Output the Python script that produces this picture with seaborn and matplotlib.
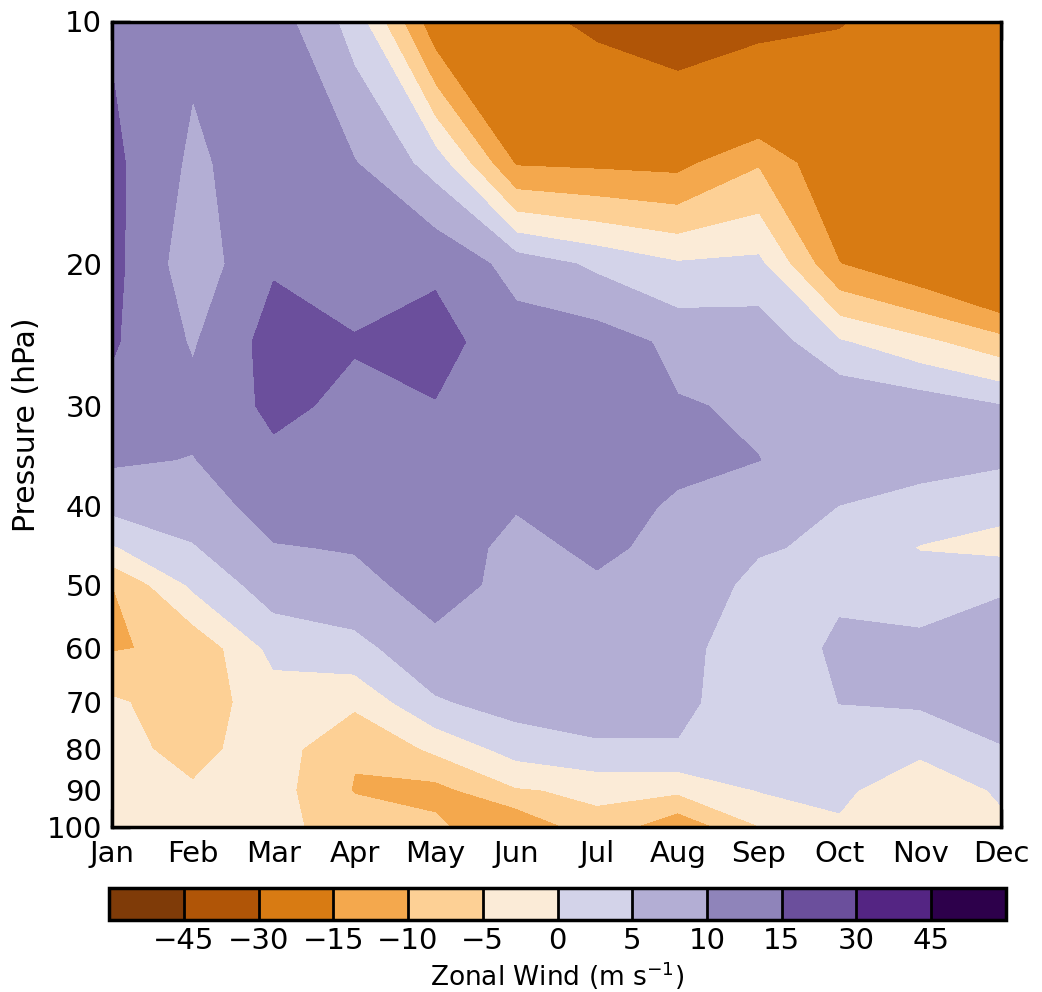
import numpy as np
import matplotlib
matplotlib.use("Agg")
import matplotlib.pyplot as plt
import seaborn as sns

sns.set_theme(style="white")
plt.rcParams['font.family'] = ['DejaVu Sans']
plt.rcParams['text.color'] = 'black'
plt.rcParams['axes.labelcolor'] = 'black'
plt.rcParams['xtick.color'] = 'black'
plt.rcParams['ytick.color'] = 'black'

months = ['Jan', 'Feb', 'Mar', 'Apr', 'May', 'Jun',
          'Jul', 'Aug', 'Sep', 'Oct', 'Nov', 'Dec']
pressure = [10, 15, 20, 25, 30, 35, 40, 45, 50, 60, 70, 80, 90, 100]

# zonal wind (m/s) per pressure level, Jan..Dec
u_010 = [14.5, 11, 12.5, 3, -18.7, -27, -32, -36, -33, -30.5, -27, -27]
u_015 = [16.2, 9, 13, 10.3, 3, -15.5, -16, -16.5, -10.5, -20, -24, -27]
u_020 = [16.5, 7, 14.5, 13, 14.3, 8, 4, 0.5, 1.2, -14.9, -19.4, -26]
u_025 = [15.6, 9.5, 17, 15.3, 16.5, 12.5, 12.5, 8.8, 8.5, 0.5, -3.75, -8.2]
u_030 = [13.5, 11.5, 16, 14, 14.8, 14, 13, 10.3, 9.5, 9.5, 8, 5.2]
u_035 = [10.7, 9.8, 14, 13, 14.2, 12.5, 12.5, 10.8, 10.05, 8, 6.5, 5.8]
u_040 = [6.3, 7.5, 12, 12, 13.5, 10.3, 11.5, 9.5, 8, 4.9, 3.4, 1.2]
u_045 = [-0.5, 4.6, 9.7, 10.3, 12.8, 8.5, 11, 8.5, 5.5, 4, -0.3, -1.5]
u_050 = [-10.05, 1, 7.5, 8.5, 12, 8.5, 9.3, 8.5, 3.5, 4, 3, 4.5]
u_060 = [-10.4, -9, 1.5, 3.4, 8.5, 7.8, 8, 7, 1.2, 6, 6, 7.1]
u_070 = [-4.3, -7.5, -2.5, -4, 4.4, 7, 6.5, 6.5, 1.2, 5.05, 5.6, 6.5]
u_080 = [-3.5, -6.5, -2.5, -9.6, -4, 2, 4.5, 4.5, 1.0, 3.5, 1.5, 4.8]
u_090 = [-3, -4.5, -3, -10.3, -11.7, -5.5, -4, -4, 0.2, 1.5, -5.05, 1]
u_100 = [-2.5, -3.5, -3.5, -7.5, -8.9, -15, -6.5, -14, -5.2, -1, -3, -1.5]

levels = [-60, -45, -30, -15, -10, -5, 0, 5, 10, 15, 30, 45, 60]
level_colors = ['#7f3b08', '#b05507', '#d87b13', '#f4a84d', '#fdd095', '#fbebd7',
                '#d3d3e9', '#b3aed4', '#8f84ba', '#6b4f9c', '#542583', '#2d004b']

wind = np.array([u_010, u_015, u_020, u_025, u_030, u_035, u_040,
                 u_045, u_050, u_060, u_070, u_080, u_090, u_100])

fig = plt.figure(figsize=(10.42, 9.92), dpi=100)
ax = fig.add_axes([112 / 1042, 1 - 827 / 992, (1001 - 112) / 1042, (827 - 21.5) / 992])

palette = sns.color_palette(level_colors)
cs = ax.contourf(np.arange(len(months)), pressure, wind, levels=levels, colors=palette)

ax.set_yscale('log')
ax.set_ylim(100, 10)
ax.set_xlim(0, len(months) - 1)
yt = [10, 20, 30, 40, 50, 60, 70, 80, 90, 100]
ax.set_yticks(yt)
ax.set_yticklabels([str(t) for t in yt])
ax.minorticks_off()
ax.set_xticks(np.arange(len(months)))
ax.set_xticklabels(months)
ax.set_ylabel('Pressure (hPa)', fontsize=21.5, labelpad=4)

ax.tick_params(axis='both', direction='in', length=13, width=2.5, color='black',
               labelsize=21, pad=7, top=True, right=False, left=True, bottom=True)
ax.tick_params(axis='x', pad=9)
for sp in ax.spines.values():
    sp.set_color('black')
    sp.set_linewidth(2.5)

cax = fig.add_axes([109 / 1042, 1 - 920 / 992, (1006 - 109) / 1042, 32 / 992])
cbar = fig.colorbar(cs, cax=cax, orientation='horizontal', ticks=levels[1:-1], drawedges=True)
cbar.outline.set_linewidth(2.5)
cbar.outline.set_edgecolor('black')
cbar.dividers.set_linewidth(2)
cbar.dividers.set_color('black')
cbar.ax.tick_params(length=0, labelsize=21, pad=5)
cbar.set_label('Zonal Wind (m s$^{-1}$)', fontsize=19, labelpad=3)

fig.savefig('out.png', dpi=100)
